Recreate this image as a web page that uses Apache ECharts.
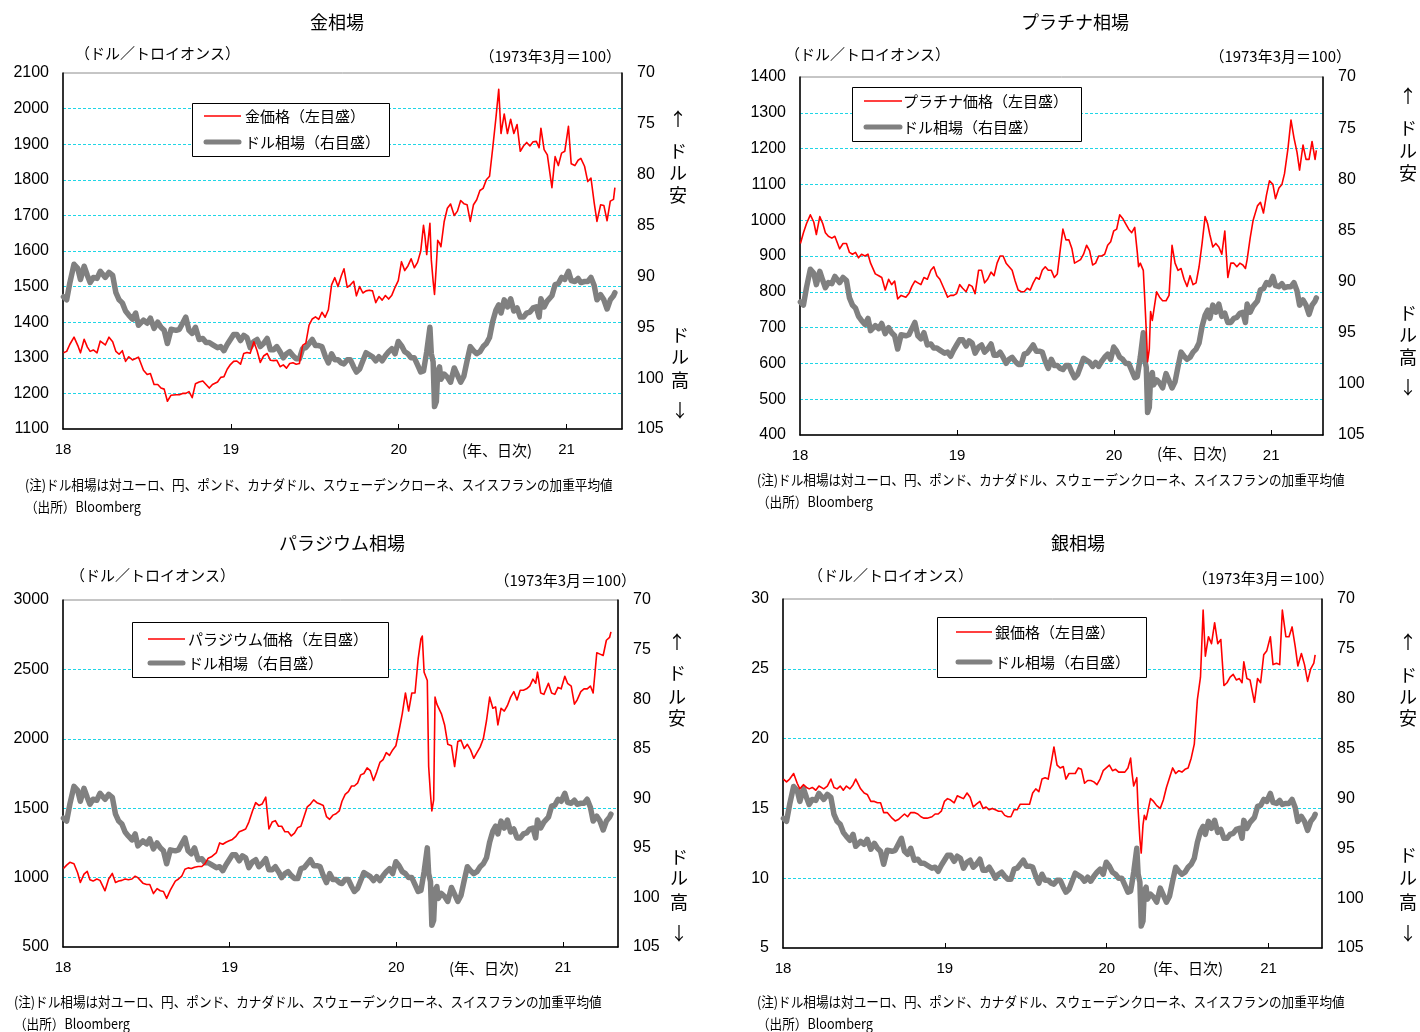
<!DOCTYPE html>
<html lang="ja">
<head>
<meta charset="utf-8">
<title>金・プラチナ・パラジウム・銀相場とドル相場</title>
<script src="https://cdn.jsdelivr.net/npm/echarts/dist/echarts.min.js"></script>
<style>
html, body { margin: 0; padding: 0; background: #fff; }
#chart { width: 1420px; height: 1032px; }
</style>
</head>
<body>
<div id="chart"></div>
<script>
// ---- sampled observation dates (roughly weekly, denser in March 2020) ----
const dates = [
  '2018-01-02','2018-01-09','2018-01-16','2018-01-25',
  '2018-02-02','2018-02-08','2018-02-16','2018-02-23',
  '2018-03-01','2018-03-08','2018-03-16','2018-03-23',
  '2018-04-03','2018-04-11','2018-04-19','2018-04-26',
  '2018-05-03','2018-05-10','2018-05-17','2018-05-24',
  '2018-06-01','2018-06-08','2018-06-14','2018-06-25',
  '2018-07-03','2018-07-10','2018-07-18','2018-07-26',
  '2018-08-02','2018-08-09','2018-08-16','2018-08-24',
  '2018-09-04','2018-09-11','2018-09-18','2018-09-25',
  '2018-10-02','2018-10-09','2018-10-16','2018-10-24',
  '2018-11-01','2018-11-08','2018-11-15','2018-11-22',
  '2018-12-03','2018-12-10','2018-12-17','2018-12-24','2018-12-31',
  '2019-01-07','2019-01-14','2019-01-22','2019-01-29',
  '2019-02-05','2019-02-12','2019-02-20','2019-02-27',
  '2019-03-06','2019-03-13','2019-03-21','2019-03-28',
  '2019-04-04','2019-04-11','2019-04-18','2019-04-25',
  '2019-05-02','2019-05-09','2019-05-16','2019-05-23','2019-05-30',
  '2019-06-06','2019-06-13','2019-06-20','2019-06-27',
  '2019-07-04','2019-07-11','2019-07-18','2019-07-25',
  '2019-08-01','2019-08-08','2019-08-15','2019-08-22','2019-08-29',
  '2019-09-04','2019-09-11','2019-09-18','2019-09-25',
  '2019-10-01','2019-10-08','2019-10-15','2019-10-22','2019-10-29',
  '2019-11-05','2019-11-12','2019-11-19','2019-11-26',
  '2019-12-03','2019-12-10','2019-12-17','2019-12-24','2019-12-31',
  '2020-01-07','2020-01-14','2020-01-21','2020-01-28',
  '2020-02-04','2020-02-11','2020-02-18','2020-02-24','2020-02-27',
  '2020-03-02','2020-03-09','2020-03-12','2020-03-16','2020-03-19','2020-03-23','2020-03-26','2020-03-30',
  '2020-04-02','2020-04-09','2020-04-16','2020-04-23',
  '2020-05-01','2020-05-08','2020-05-15','2020-05-22','2020-05-29',
  '2020-06-05','2020-06-12','2020-06-19','2020-06-26',
  '2020-07-03','2020-07-10','2020-07-17','2020-07-24','2020-07-31',
  '2020-08-06','2020-08-11','2020-08-18','2020-08-25',
  '2020-09-01','2020-09-08','2020-09-15','2020-09-22','2020-09-29',
  '2020-10-06','2020-10-13','2020-10-20','2020-10-27',
  '2020-11-02','2020-11-06','2020-11-13','2020-11-20','2020-11-30',
  '2020-12-07','2020-12-14','2020-12-21','2020-12-28',
  '2021-01-05','2021-01-11','2021-01-19','2021-01-26',
  '2021-02-01','2021-02-09','2021-02-16','2021-02-23',
  '2021-03-02','2021-03-08','2021-03-16','2021-03-23','2021-03-30',
  '2021-04-06','2021-04-13','2021-04-16'
];

// ドル相場 (1973年3月=100)
const dollarIndex = [
  92.0, 92.3, 90.6, 88.8,
  89.2, 90.3, 89.0, 89.9,
  90.6, 90.1, 90.2, 89.5,
  90.1, 89.6, 89.9, 91.6,
  92.3, 92.6, 93.4, 93.8,
  94.2, 93.6, 94.8, 94.3,
  94.6, 94.1, 95.1, 94.5,
  95.0, 95.3, 96.6, 95.2,
  95.3, 95.2, 94.6, 94.0,
  95.3, 95.6, 95.0, 96.2,
  96.1, 96.5, 96.5, 96.7,
  97.0, 96.9, 97.3, 96.7, 96.2,
  95.7, 95.7, 96.3, 95.8,
  96.0, 97.0, 96.4, 96.2,
  96.9, 96.6, 96.1, 97.2,
  97.2, 96.9, 97.4, 98.0,
  97.6, 97.4, 97.8, 98.1, 98.1,
  97.1, 97.0, 96.6, 96.2,
  96.8, 96.8, 96.9, 97.8,
  98.5, 97.6, 98.2, 98.2, 98.5,
  98.6, 98.2, 98.2, 98.9,
  99.4, 99.1, 98.3, 97.5, 97.7,
  97.9, 98.3, 97.9, 98.3,
  97.8, 97.4, 97.1, 97.6, 96.4,
  96.8, 97.4, 97.6, 98.0,
  98.0, 98.7, 99.4, 99.3, 98.5,
  97.4, 95.0, 97.6, 98.4, 102.8, 102.3, 99.3, 98.9,
  100.1, 99.6, 99.9, 100.4,
  99.0, 99.7, 100.4, 99.8, 98.3,
  96.9, 97.3, 97.6, 97.4,
  96.9, 96.6, 96.0, 94.4, 93.3,
  92.8, 93.6, 92.3, 93.0,
  92.2, 93.4, 93.1, 94.0, 94.0,
  93.6, 93.5, 93.1, 93.0,
  94.0, 92.2, 93.0, 92.4, 91.9,
  90.8, 90.7, 90.1, 90.3,
  89.5, 90.4, 90.5, 90.2,
  90.6, 90.5, 90.5, 90.1,
  90.9, 92.3, 91.8, 92.3, 93.2,
  92.3, 91.9, 91.6
];

// 金価格 (ドル/トロイオンス)
const goldPrice = [
  1314, 1318, 1338, 1358,
  1335, 1314, 1352, 1330,
  1318, 1322, 1314, 1347,
  1336, 1358, 1345, 1318,
  1310, 1320, 1290, 1303,
  1294, 1298, 1302, 1265,
  1253, 1256, 1225, 1225,
  1215, 1212, 1178, 1195,
  1196, 1196, 1200, 1200,
  1205, 1188, 1227, 1232,
  1235, 1225, 1215, 1225,
  1232, 1245, 1247, 1268, 1281,
  1290, 1291, 1282, 1312,
  1315, 1313, 1345, 1320,
  1287, 1305, 1312, 1293,
  1292, 1293, 1275, 1280,
  1271, 1284, 1286, 1282, 1284,
  1335, 1341, 1392, 1409,
  1415, 1408, 1428, 1414,
  1435, 1505, 1525, 1500, 1530,
  1550, 1498, 1505, 1515,
  1474, 1500, 1482, 1488, 1490,
  1488, 1455, 1472, 1462,
  1475, 1465, 1476, 1498, 1517,
  1570, 1545, 1558, 1578,
  1553, 1568, 1600, 1672, 1643,
  1590, 1678, 1575, 1515, 1478, 1560, 1630, 1622,
  1612, 1682, 1720, 1732,
  1700, 1712, 1742, 1733, 1730,
  1683, 1730, 1744, 1770,
  1776, 1800, 1810, 1890, 1975,
  2054, 1930, 1985, 1930,
  1970, 1930, 1955, 1880, 1895,
  1905, 1895, 1907, 1908,
  1890, 1945, 1885, 1870, 1778,
  1865, 1840, 1875, 1880,
  1950, 1845, 1840, 1855,
  1860, 1838, 1795, 1805,
  1735, 1683, 1730, 1728, 1685,
  1740, 1745, 1778
];

// プラチナ価格 (ドル/トロイオンス)
const platinumPrice = [
  935, 965, 990, 1015,
  995, 960, 1010, 990,
  965, 955, 950, 955,
  920, 935, 935, 910,
  905, 910, 895, 905,
  900, 905, 880, 850,
  845, 840, 805, 835,
  820, 830, 780, 790,
  785, 795, 815, 830,
  825, 820, 840, 835,
  860, 870, 845, 835,
  805, 785, 790, 790, 795,
  820, 810, 800, 820,
  815, 795, 860, 860,
  825, 835, 855, 845,
  880, 900, 900, 880,
  870, 860, 830, 805, 800,
  800, 810, 805, 825,
  840, 835, 860, 870,
  860, 860, 840, 850, 920,
  975, 945, 945, 920,
  880, 885, 890, 905, 930,
  915, 875, 880, 900,
  900, 905, 930, 940, 970,
  975, 1015, 1005, 990,
  975, 965, 980, 910, 870,
  880, 860, 790, 690, 605, 640, 745, 720,
  725, 800, 785, 775,
  775, 790, 930, 880, 860,
  865, 835, 815, 845,
  820, 825, 870, 935, 1010,
  990, 960, 925, 935,
  925, 905, 970, 840, 880,
  880, 870, 880, 875,
  865, 890, 950, 1000, 1040,
  1050, 1020, 1070, 1110,
  1100, 1060, 1090, 1100,
  1130, 1200, 1280, 1230,
  1190, 1140, 1210, 1170, 1170,
  1220, 1170, 1195
];

// パラジウム価格 (ドル/トロイオンス)
const palladiumPrice = [
  1065, 1090, 1110, 1100,
  1035, 965, 1025, 1045,
  985, 975, 990, 980,
  905, 990, 1030, 965,
  975, 980, 990, 985,
  990, 1010, 1000, 960,
  950, 950, 885, 920,
  905, 900, 850, 910,
  975, 990, 1010, 1060,
  1070, 1065, 1075, 1080,
  1080, 1100, 1140, 1150,
  1180, 1250, 1240, 1255, 1265,
  1275, 1295, 1330, 1340,
  1350, 1400, 1480, 1540,
  1520, 1530, 1580, 1350,
  1400, 1410, 1370, 1370,
  1330, 1330, 1300, 1320, 1360,
  1370, 1440, 1510, 1530,
  1560, 1540, 1530, 1520,
  1440, 1420, 1450, 1460, 1480,
  1550, 1600, 1620, 1660,
  1660, 1680, 1740, 1750, 1790,
  1770, 1700, 1760, 1830,
  1850, 1900, 1880, 1920, 1950,
  2060, 2180, 2330, 2200,
  2330, 2330, 2580, 2720, 2740,
  2480, 2420, 1800, 1600, 1480, 1560, 2300, 2250,
  2250, 2180, 2100, 1960,
  1950, 1800, 1980, 1990, 1930,
  1960, 1920, 1860, 1900,
  1940, 2000, 2130, 2300, 2220,
  2230, 2100, 2220, 2200,
  2240, 2300, 2340, 2280, 2350,
  2350, 2360, 2380, 2430,
  2400, 2480, 2330, 2320, 2400,
  2330, 2320, 2370, 2360,
  2450, 2400, 2380, 2250,
  2280, 2340, 2360, 2360,
  2380, 2330, 2620, 2610, 2600,
  2710, 2730, 2770
];

// 銀価格 (ドル/トロイオンス)
const silverPrice = [
  17.1, 16.9, 17.1, 17.5,
  16.8, 16.4, 16.7, 16.5,
  16.4, 16.5, 16.3, 16.6,
  16.4, 16.6, 17.1, 16.5,
  16.4, 16.6, 16.3, 16.6,
  16.4, 16.7, 17.1, 16.4,
  16.1, 16.0, 15.5, 15.5,
  15.4, 15.4, 14.7, 14.7,
  14.3, 14.1, 14.2, 14.4,
  14.6, 14.4, 14.7, 14.7,
  14.6, 14.4, 14.3, 14.3,
  14.4, 14.6, 14.6, 14.8, 15.5,
  15.7, 15.6, 15.4, 15.9,
  15.8, 15.7, 16.1, 15.8,
  15.1, 15.3, 15.5, 15.0,
  15.1, 14.9, 15.0, 14.9,
  14.8, 14.8, 14.5, 14.4, 14.4,
  14.9, 14.9, 15.3, 15.3,
  15.3, 15.3, 16.1, 16.4,
  16.2, 17.1, 17.2, 17.1, 18.3,
  19.4, 18.1, 17.9, 18.0,
  17.1, 17.5, 17.5, 17.5, 17.9,
  17.8, 16.8, 17.0, 17.0,
  16.9, 16.7, 17.1, 17.7, 17.9,
  18.1, 17.7, 17.8, 17.6,
  17.6, 17.6, 17.9, 18.6, 17.6,
  16.6, 17.2, 14.9, 12.8, 11.8, 13.8, 14.5, 14.2,
  14.3, 15.7, 15.5, 15.2,
  15.0, 15.6, 16.5, 17.2, 17.9,
  17.5, 17.7, 17.6, 17.8,
  17.9, 18.6, 19.6, 22.8, 24.4,
  29.2, 25.9, 27.3, 26.8,
  28.3, 26.8, 27.1, 23.8, 24.0,
  24.4, 24.6, 24.2, 24.3,
  24.0, 25.5, 24.3, 24.2, 22.6,
  24.3, 24.0, 26.0, 26.3,
  27.3, 25.3, 25.4, 25.3,
  29.2, 27.3, 27.3, 28.0,
  26.6, 25.2, 26.1, 25.3, 24.1,
  25.0, 25.4, 26.0
];

// year boundaries labelled on the time axis
const yearTicks = [2018, 2019, 2020, 2021];
const xMax = 2021.33;

const JP = '"Noto Sans CJK JP", "Noto Sans", sans-serif';
const NUM = '"Liberation Sans", Arial, sans-serif';
const RED = '#ff0000';
const GRAY = '#808080';
const CYAN = '#1fd6e6';

// date string -> fractional year for the value-type x axis
function yearFraction(s) {
  const [y, m, d] = s.split('-').map(Number);
  const start = Date.UTC(y, 0, 1);
  const end = Date.UTC(y + 1, 0, 1);
  return y + (Date.UTC(y, m - 1, d) - start) / (end - start);
}
const xs = dates.map(yearFraction);
const pairs = vals => vals.map((v, i) => [xs[i], v]);

const DOLLAR_NAME = 'ドル相場（右目盛）';

const panels = [
  {
    title: '金相場', priceName: '金価格（左目盛）', values: goldPrice,
    yMin: 1100, yMax: 2100, yStep: 100,
    grid: { left: 63, top: 73, width: 559, height: 356 },
    titlePos: [337, 22], unitL: [75, 53], unitR: [621, 56],
    legend: { x: 192, y: 103, w: 197, h: 53, lineX: 204, lineW: 37, textX: 245, row1: 116, row2: 142 },
    up: { x: 678, ys: [119, 151, 173, 195] }, down: { x: 680, ys: [335, 357, 380, 410] },
    unitX: [497, 450], notes: [25, 485]
  },
  {
    title: 'プラチナ相場', priceName: 'プラチナ価格（左目盛）', values: platinumPrice,
    yMin: 400, yMax: 1400, yStep: 100,
    grid: { left: 800, top: 77, width: 523, height: 358 },
    titlePos: [1075, 22], unitL: [785, 54], unitR: [1351, 56],
    legend: { x: 852, y: 87, w: 229, h: 54, lineX: 864, lineW: 38, textX: 903, row1: 101, row2: 127 },
    up: { x: 1408, ys: [96, 128, 151, 173] }, down: { x: 1408, ys: [313, 335, 357, 387] },
    unitX: [1192, 453], notes: [757, 480]
  },
  {
    title: 'パラジウム相場', priceName: 'パラジウム価格（左目盛）', values: palladiumPrice,
    yMin: 500, yMax: 3000, yStep: 500,
    grid: { left: 63, top: 600, width: 555, height: 347 },
    titlePos: [342, 543], unitL: [70, 575], unitR: [636, 580],
    legend: { x: 132, y: 622, w: 256, h: 55, lineX: 148, lineW: 37, textX: 188, row1: 639, row2: 663 },
    up: { x: 677, ys: [642, 673, 697, 718] }, down: { x: 679, ys: [857, 878, 902, 933] },
    unitX: [484, 968], notes: [14, 1002]
  },
  {
    title: '銀相場', priceName: '銀価格（左目盛）', values: silverPrice,
    yMin: 5, yMax: 30, yStep: 5,
    grid: { left: 783, top: 599, width: 539, height: 349 },
    titlePos: [1078, 543], unitL: [808, 575], unitR: [1334, 578],
    legend: { x: 937, y: 617, w: 209, h: 60, lineX: 956, lineW: 36, textX: 995, row1: 632, row2: 662 },
    up: { x: 1408, ys: [642, 675, 697, 718] }, down: { x: 1408, ys: [855, 878, 902, 933] },
    unitX: [1188, 968], notes: [757, 1002]
  }
];

function text(x, y, str, o) {
  o = o || {};
  return {
    type: 'text', x: x, y: y, z: 100, scaleX: o.scaleX || 1, silent: true,
    style: {
      text: str, x: 0, y: 0, fill: '#000',
      fontSize: o.size || 15, fontFamily: o.family || JP, fontWeight: o.weight || 'normal',
      align: o.align || 'left', verticalAlign: 'middle'
    }
  };
}

const option = {
  animation: false,
  backgroundColor: '#fff',
  grid: [], xAxis: [], yAxis: [], series: [], graphic: []
};

panels.forEach((p, i) => {
  option.grid.push(Object.assign({ show: true, borderColor: '#8c8c8c', borderWidth: 1, backgroundColor: 'transparent' }, p.grid));

  option.xAxis.push({
    type: 'value', gridIndex: i, min: 2018, max: xMax, interval: 1,
    axisLine: { onZero: false, lineStyle: { color: '#000', width: 1.5 } },
    axisTick: { show: true, inside: true, length: 5, customValues: yearTicks.slice(1), lineStyle: { color: '#000', width: 1 } },
    axisLabel: {
      customValues: yearTicks, margin: 13,
      fontSize: 15, fontFamily: NUM, color: '#000',
      formatter: v => (Math.abs(v - Math.round(v)) < 1e-6 ? String(Math.round(v)).slice(2) : '')
    },
    splitLine: { show: false }
  });

  option.yAxis.push({
    type: 'value', gridIndex: i, position: 'left',
    min: p.yMin, max: p.yMax, interval: p.yStep,
    axisLine: { show: true, onZero: false, lineStyle: { color: '#000', width: 1.5 } },
    axisTick: { show: false },
    axisLabel: { fontSize: 16, fontFamily: NUM, color: '#000', margin: 14, formatter: v => String(v) },
    splitLine: { show: true, showMinLine: false, showMaxLine: false, lineStyle: { color: CYAN, type: [3, 2], width: 1 } }
  });

  option.yAxis.push({
    type: 'value', gridIndex: i, position: 'right', inverse: true,
    min: 70, max: 105, interval: 5,
    axisLine: { show: true, onZero: false, lineStyle: { color: '#000', width: 1.5 } },
    axisTick: { show: false },
    axisLabel: { fontSize: 16, fontFamily: NUM, color: '#000', margin: 15, formatter: v => String(v) },
    splitLine: { show: false }
  });

  option.series.push({
    name: DOLLAR_NAME, type: 'line', xAxisIndex: i, yAxisIndex: 2 * i + 1,
    data: pairs(dollarIndex), symbol: 'none', z: 2,
    lineStyle: { color: GRAY, width: 5.5, cap: 'round', join: 'round' }
  });
  option.series.push({
    name: p.priceName, type: 'line', xAxisIndex: i, yAxisIndex: 2 * i,
    data: pairs(p.values), symbol: 'none', z: 3,
    lineStyle: { color: RED, width: 1.6, join: 'round' }
  });

  const g = option.graphic;
  g.push(text(p.titlePos[0], p.titlePos[1], p.title, { size: 18, align: 'center' }));
  g.push(text(p.unitL[0], p.unitL[1], '（ドル／トロイオンス）', { size: 15 }));
  g.push(text(p.unitR[0], p.unitR[1], '（1973年3月＝100）', { size: 15, align: 'right' }));

  // legend box
  const L = p.legend;
  g.push({ type: 'rect', z: 99, silent: true, shape: { x: L.x + 0.5, y: L.y + 0.5, width: L.w, height: L.h },
           style: { fill: '#fff', stroke: '#000', lineWidth: 1 } });
  g.push({ type: 'line', z: 100, silent: true, shape: { x1: L.lineX, y1: L.row1, x2: L.lineX + L.lineW, y2: L.row1 },
           style: { stroke: RED, lineWidth: 1.6 } });
  g.push({ type: 'line', z: 100, silent: true, shape: { x1: L.lineX + 2, y1: L.row2, x2: L.lineX + L.lineW - 2, y2: L.row2 },
           style: { stroke: GRAY, lineWidth: 5, lineCap: 'round' } });
  g.push(text(L.textX, L.row1, p.priceName, { size: 15 }));
  g.push(text(L.textX, L.row2, DOLLAR_NAME, { size: 15 }));

  // vertical captions beside the right axis
  ['↑', 'ド', 'ル', '安'].forEach((c, k) => g.push(text(p.up.x, p.up.ys[k], c, { size: 18, align: 'center' })));
  ['ド', 'ル', '高', '↓'].forEach((c, k) => g.push(text(p.down.x, p.down.ys[k], c, { size: 18, align: 'center' })));

  g.push(text(p.unitX[0], p.unitX[1], '(年、日次)', { size: 15, align: 'center' }));

  g.push(text(p.notes[0], p.notes[1], '(注)ドル相場は対ユーロ、円、ポンド、カナダドル、スウェーデンクローネ、スイスフランの加重平均値', { size: 14, scaleX: 0.9 }));
  g.push(text(p.notes[0], p.notes[1] + 22, '（出所）Bloomberg', { size: 14, scaleX: 0.9 }));
});

const chart = echarts.init(document.getElementById('chart'), null, { renderer: 'canvas' });
chart.setOption(option);
</script>
</body>
</html>
